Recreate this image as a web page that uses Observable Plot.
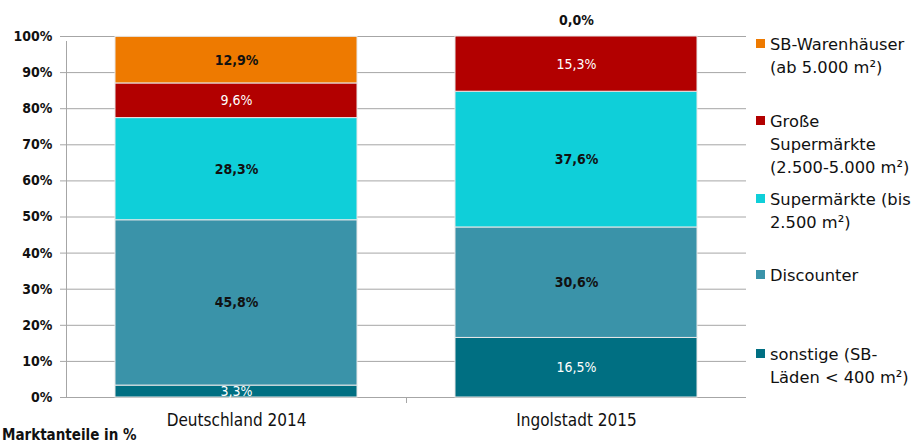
<!DOCTYPE html>
<html><head><meta charset="utf-8">
<script src="https://cdn.jsdelivr.net/npm/d3@7"></script>
<script src="https://cdn.jsdelivr.net/npm/@observablehq/plot@0.6"></script>
<style>
body{margin:0;background:#fff;font-family:"DejaVu Sans Condensed",sans-serif;}
#wrap{position:relative;width:916px;height:444px;overflow:hidden;}
.leg{position:absolute;left:756px;padding-left:14px;font-family:"DejaVu Sans",sans-serif;font-size:16.3px;line-height:23px;color:#111;white-space:nowrap;}
.sw{position:absolute;left:0;top:6px;width:9px;height:9px;}
#note{position:absolute;left:2px;top:428px;font-size:15px;line-height:15px;font-weight:bold;color:#111;}
</style></head>
<body><div id="wrap"></div>
<script>
const categories = ["Deutschland 2014", "Ingolstadt 2015"];
const series = ["sonstige (SB-Läden < 400 m²)", "Discounter", "Supermärkte (bis 2.500 m²)", "Große Supermärkte (2.500-5.000 m²)", "SB-Warenhäuser (ab 5.000 m²)"];
const legendLines = [["sonstige (SB-", "Läden < 400 m²)"], ["Discounter"], ["Supermärkte (bis", "2.500 m²)"], ["Große", "Supermärkte", "(2.500-5.000 m²)"], ["SB-Warenhäuser", "(ab 5.000 m²)"]];
const colors = ["#006F82", "#3A93A9", "#0FCFD9", "#B20000", "#EE7A00"];
const labelColors = ["#fff", "#111", "#111", "#fff", "#111"];
const deutschland2014 = [3.3, 45.8, 28.3, 9.6, 12.9];
const ingolstadt2015 = [16.5, 30.6, 37.6, 15.3, 0.0];
const yTicks = [0, 10, 20, 30, 40, 50, 60, 70, 80, 90, 100];

const values = [deutschland2014, ingolstadt2015];
const data = [];
categories.forEach((c, i) => series.forEach((s, j) => data.push({cat: c, series: s, idx: j, value: values[i][j]})));
const fmt = v => v.toFixed(1).replace(".", ",") + "%";

const W = 746, ML = 66, MR = 0;
const step = (W - ML - MR) / categories.length;
const stackOpts = {x: "cat", y: "value", z: "series", order: series};
const dark = d => d.value > 0 && labelColors[d.idx] !== "#fff";
const light = d => d.value > 0 && labelColors[d.idx] === "#fff";

const plot = Plot.plot({
  width: W, height: 444,
  marginLeft: ML, marginRight: MR, marginTop: 36, marginBottom: 47,
  style: {fontFamily: "DejaVu Sans Condensed, sans-serif", color: "#111", background: "#fff"},
  x: {type: "band", domain: categories, paddingInner: 0.287, paddingOuter: 0.1435, label: null},
  y: {type: "linear", domain: [0, 100], label: null},
  color: {domain: series, range: colors},
  marks: [
    Plot.gridY(yTicks, {stroke: "#a6a6a6", strokeOpacity: 1}),
    Plot.axisY(yTicks, {tickFormat: d => d + "%", tickSize: 6, tickPadding: 8, fontSize: 14, fontWeight: "bold", stroke: "#a6a6a6", label: null}),
    Plot.axisX({tickSize: 0, tickPadding: 16, fontSize: 17, label: null}),
    Plot.ruleY([0], {stroke: "#a6a6a6"}),
    Plot.ruleX([categories[0]], {x: d => d, dx: -step / 2, y1: () => 0, y2: () => 100, insetBottom: -5, stroke: "#a6a6a6"}),
    Plot.ruleX([categories[1]], {x: d => d, dx: -step / 2, y1: () => 0, y2: () => 0, insetBottom: -6, stroke: "#a6a6a6"}),
    Plot.barY(data, Plot.stackY({...stackOpts, fill: "series", stroke: "#e8e8e8", strokeWidth: 1})),
    Plot.text(data, Plot.stackY({...stackOpts, text: d => dark(d) ? fmt(d.value) : "", fill: "#111", fontSize: 14, fontWeight: "bold"})),
    Plot.text(data, Plot.stackY({...stackOpts, text: d => light(d) ? fmt(d.value) : "", fill: "#fff", fontSize: 14})),
    Plot.text(data, Plot.stackY({...stackOpts, text: d => d.value === 0 ? fmt(d.value) : "", fill: "#111", fontSize: 14, fontWeight: "bold", lineAnchor: "bottom", dy: -12}))
  ]
});
const wrap = document.getElementById("wrap");
wrap.appendChild(plot);

const legendTops = [343, 264, 188, 110, 33];
series.forEach((s, j) => {
  const d = document.createElement("div");
  d.className = "leg";
  d.style.top = legendTops[j] + "px";
  const sw = document.createElement("span");
  sw.className = "sw";
  sw.style.background = colors[j];
  d.appendChild(sw);
  d.innerHTML += legendLines[j].join("<br>");
  wrap.appendChild(d);
});
const note = document.createElement("div");
note.id = "note";
note.textContent = "Marktanteile in %";
wrap.appendChild(note);
</script></body></html>
